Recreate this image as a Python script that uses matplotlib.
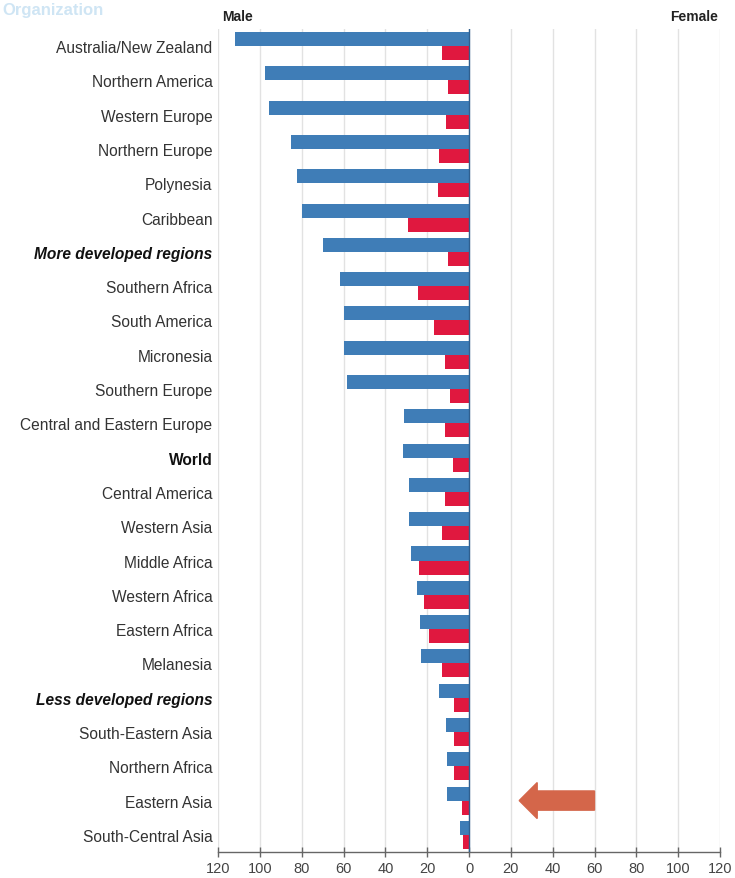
import matplotlib
matplotlib.use("Agg")
import matplotlib.pyplot as plt
from matplotlib.patches import FancyArrow
import numpy as np

regions = [
    "Australia/New Zealand", "Northern America", "Western Europe", "Northern Europe",
    "Polynesia", "Caribbean", "More developed regions", "Southern Africa",
    "South America", "Micronesia", "Southern Europe", "Central and Eastern Europe",
    "World", "Central America", "Western Asia", "Middle Africa", "Western Africa",
    "Eastern Africa", "Melanesia", "Less developed regions", "South-Eastern Asia",
    "Northern Africa", "Eastern Asia", "South-Central Asia",
]
male = [112, 97.5, 95.5, 85, 82, 80, 70, 61.5, 60, 60, 58.5, 31, 31.5, 28.5, 28.5,
        27.5, 25, 23.5, 23, 14.5, 11, 10.5, 10.5, 4.5]
female = [13, 10, 11, 14.5, 15, 29, 10, 24.5, 16.5, 11.5, 9, 11.5, 7.5, 11.5, 13,
          24, 21.5, 19, 13, 7, 7, 7, 3.2, 3]
bold_rows = ["World"]
bold_italic_rows = ["More developed regions", "Less developed regions"]
xticks = [-120, -100, -80, -60, -40, -20, 0, 20, 40, 60, 80, 100, 120]

blue = "#3f7db7"
red = "#e0183f"

W, H = 735, 879
fig = plt.figure(figsize=(W / 100, H / 100), dpi=100)
ax = fig.add_axes([218 / W, 26 / H, 502 / W, 823 / H])

n = len(regions)
y = np.arange(n)
h = 0.41
ax.barh(y - h / 2, -np.array(male), height=h, color=blue, zorder=3)
ax.barh(y + h / 2, -np.array(female), height=h, color=red, zorder=3)
ax.axvline(0, color="#2f5f8f", lw=1.0, zorder=4)

ax.set_xlim(-120, 120)
ax.set_ylim(n - 0.5, -0.5)
ax.set_xticks(xticks)
ax.set_xticklabels([str(abs(v)) for v in xticks], fontsize=10.5, color="#444444",
                   family="Liberation Sans")
ax.set_yticks(y)
ax.set_yticklabels(regions, fontsize=11.2, color="#333333", family="Liberation Sans")
for lab in ax.get_yticklabels():
    t = lab.get_text()
    if t in bold_rows:
        lab.set_fontweight("bold")
        lab.set_color("#111111")
    elif t in bold_italic_rows:
        lab.set_fontweight("bold")
        lab.set_fontstyle("italic")
        lab.set_color("#111111")
ax.tick_params(axis="y", length=0, pad=4)
ax.tick_params(axis="x", direction="inout", length=7, width=1, color="#666666", pad=3)
ax.grid(axis="x", color="#e2e2e2", lw=1, zorder=0)
for s in ["top", "right", "left"]:
    ax.spines[s].set_visible(False)
ax.spines["bottom"].set_color("#666666")
ax.spines["bottom"].set_linewidth(1)

# arrow annotation pointing at Eastern Asia
arrow = FancyArrow(60, 22, -36, 0, width=0.56, head_width=1.05, head_length=8.6,
                   length_includes_head=True, color="#d4664a", zorder=5)
ax.add_patch(arrow)

fig.text(222 / W, 1 - 17 / H, "Male", fontsize=10, fontweight="bold",
         color="#222222", va="center", ha="left", family="Liberation Sans")
fig.text(718 / W, 1 - 17 / H, "Female", fontsize=10, fontweight="bold",
         color="#222222", va="center", ha="right", family="Liberation Sans")
fig.text(2 / W, 1 - 10 / H, "Organization", fontsize=12, fontweight="bold",
         color="#cfe5f4", va="center", ha="left", family="Liberation Sans")

fig.savefig("out.png", dpi=100)
